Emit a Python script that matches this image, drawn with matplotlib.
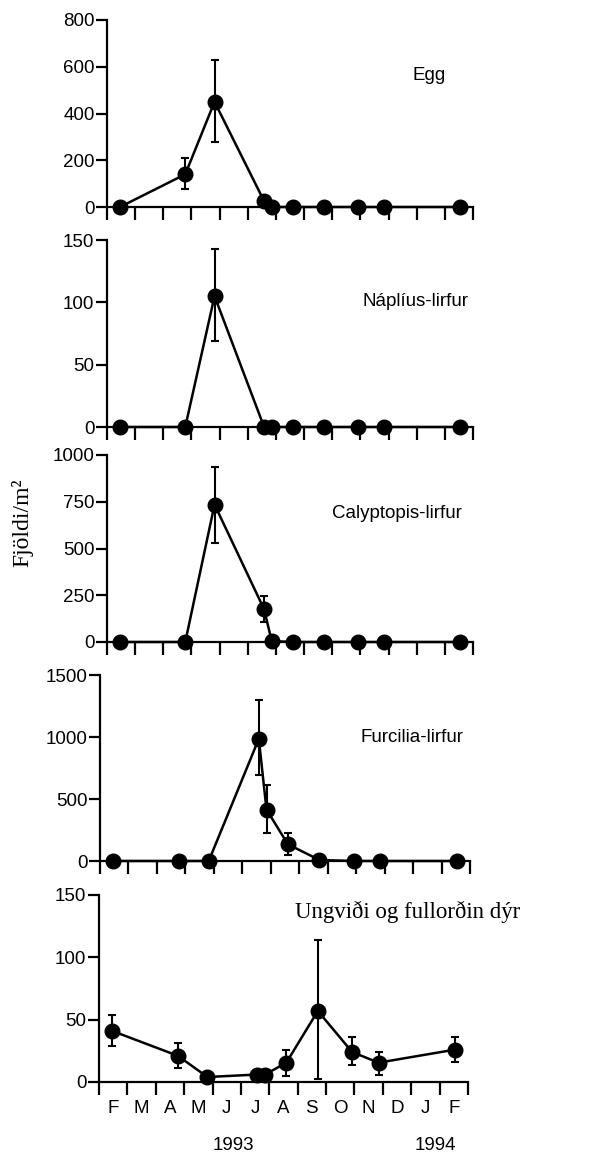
import numpy as np
import matplotlib
matplotlib.use("Agg")
import matplotlib.pyplot as plt

# sýnatökudagar (mánuðir frá 1. feb 1993)
dagar = [0.46, 2.78, 3.82, 5.58, 5.85, 6.6, 7.71, 8.92, 9.85, 12.55]

egg = [0, 140, 450, 25, 0, 0, 0, 0, 0, 0]
egg_lo = [0, 75, 276, 10, 0, 0, 0, 0, 0, 0]
egg_hi = [0, 210, 630, 40, 0, 0, 0, 0, 0, 0]

naplius = [0, 0, 105, 0, 0, 0, 0, 0, 0, 0]
naplius_lo = [0, 0, 69, 0, 0, 0, 0, 0, 0, 0]
naplius_hi = [0, 0, 143, 0, 0, 0, 0, 0, 0, 0]

calyptopis = [0, 0, 735, 175, 5, 0, 0, 0, 0, 0]
calyptopis_lo = [0, 0, 530, 105, 5, 0, 0, 0, 0, 0]
calyptopis_hi = [0, 0, 938, 247, 5, 0, 0, 0, 0, 0]

furcilia = [0, 0, 0, 985, 415, 135, 8, 0, 0, 0]
furcilia_lo = [0, 0, 0, 693, 223, 48, 8, 0, 0, 0]
furcilia_hi = [0, 0, 0, 1295, 613, 223, 8, 0, 0, 0]

ungvidi = [41, 21, 4, 6, 6, 15.5, 57, 24, 15.5, 26]
ungvidi_lo = [28.5, 11.5, 4, 2, 2, 4.5, 2.7, 13.4, 5.9, 16.3]
ungvidi_hi = [53.5, 31.6, 4, 10, 10, 26, 113.6, 36, 23.8, 36]

heiti = ["Egg", "Náplíus-lirfur", "Calyptopis-lirfur", "Furcilia-lirfur",
         "Ungviði og fullorðin dýr"]
ymax = [800, 150, 1000, 1500, 150]
yticks = [[0, 200, 400, 600, 800], [0, 50, 100, 150], [0, 250, 500, 750, 1000],
          [0, 500, 1000, 1500], [0, 50, 100, 150]]
manudir = ["F", "M", "A", "M", "J", "J", "A", "S", "O", "N", "D", "J", "F"]

W, H = 605, 1158
fig = plt.figure(figsize=(W / 100, H / 100), dpi=100)
plt.rcParams['font.family'] = ['Liberation Sans', 'DejaVu Sans']
serif = ['Liberation Serif', 'DejaVu Serif']

# (vinstri, hægri, núll-lína, efst) í pixlum
stadsetning = [(107, 473, 207, 20), (107, 473, 427, 240), (107, 473, 642, 455),
               (100, 470, 861, 675), (99, 468, 1082, 895)]
# miðja heitis í pixlum
heiti_xy = [(429, 75), (416, 302), (397, 514), (412, 737)]
gogn = [(egg, egg_lo, egg_hi), (naplius, naplius_lo, naplius_hi),
        (calyptopis, calyptopis_lo, calyptopis_hi),
        (furcilia, furcilia_lo, furcilia_hi), (ungvidi, ungvidi_lo, ungvidi_hi)]

for i, (y, lo, hi) in enumerate(gogn):
    x0, x1, yb, yt = stadsetning[i]
    ax = fig.add_axes([x0 / W, 1 - yb / H, (x1 - x0) / W, (yb - yt) / H])
    y = np.array(y, float)
    yerr = [y - np.array(lo), np.array(hi) - y]
    ax.errorbar(dagar, y, yerr=yerr, color='black', lw=1.8, elinewidth=1.5,
                capsize=3, capthick=1.5, marker='o', ms=10.5, clip_on=False, zorder=5)
    ax.set_xlim(0, 13)
    ax.set_ylim(0, ymax[i])
    ax.set_yticks(yticks[i])
    ax.set_xticks(range(14))
    ax.spines['top'].set_visible(False)
    ax.spines['right'].set_visible(False)
    for s in ['left', 'bottom']:
        ax.spines[s].set_linewidth(1.6)
    ax.tick_params(axis='y', direction='out', length=8, width=1.6, labelsize=13.5, pad=1)
    ax.tick_params(axis='x', direction='out', length=9, width=1.6)
    ax.set_xticklabels([])
    if i < 4:
        hx, hy = heiti_xy[i]
        fig.text(hx / W, 1 - hy / H, heiti[i], ha='center', va='center', fontsize=13.5)
    else:
        ax.set_xticks(np.arange(13) + 0.5, minor=True)
        ax.set_xticklabels(manudir, minor=True)
        ax.tick_params(axis='x', which='minor', length=0, labelsize=13.5, pad=13)

fig.text(295 / W, 1 - 912 / H, heiti[4], ha='left', va='center', fontsize=16.5,
         family=serif)
fig.text(233 / W, 1 - 1145 / H, "1993", ha='center', va='center', fontsize=13.5)
fig.text(435 / W, 1 - 1145 / H, "1994", ha='center', va='center', fontsize=13.5)
fig.text(22 / W, 1 - 523 / H, "Fjöldi/m²", rotation=90, ha='center', va='center',
         fontsize=17, family=serif)

fig.savefig("out.png", dpi=100)
